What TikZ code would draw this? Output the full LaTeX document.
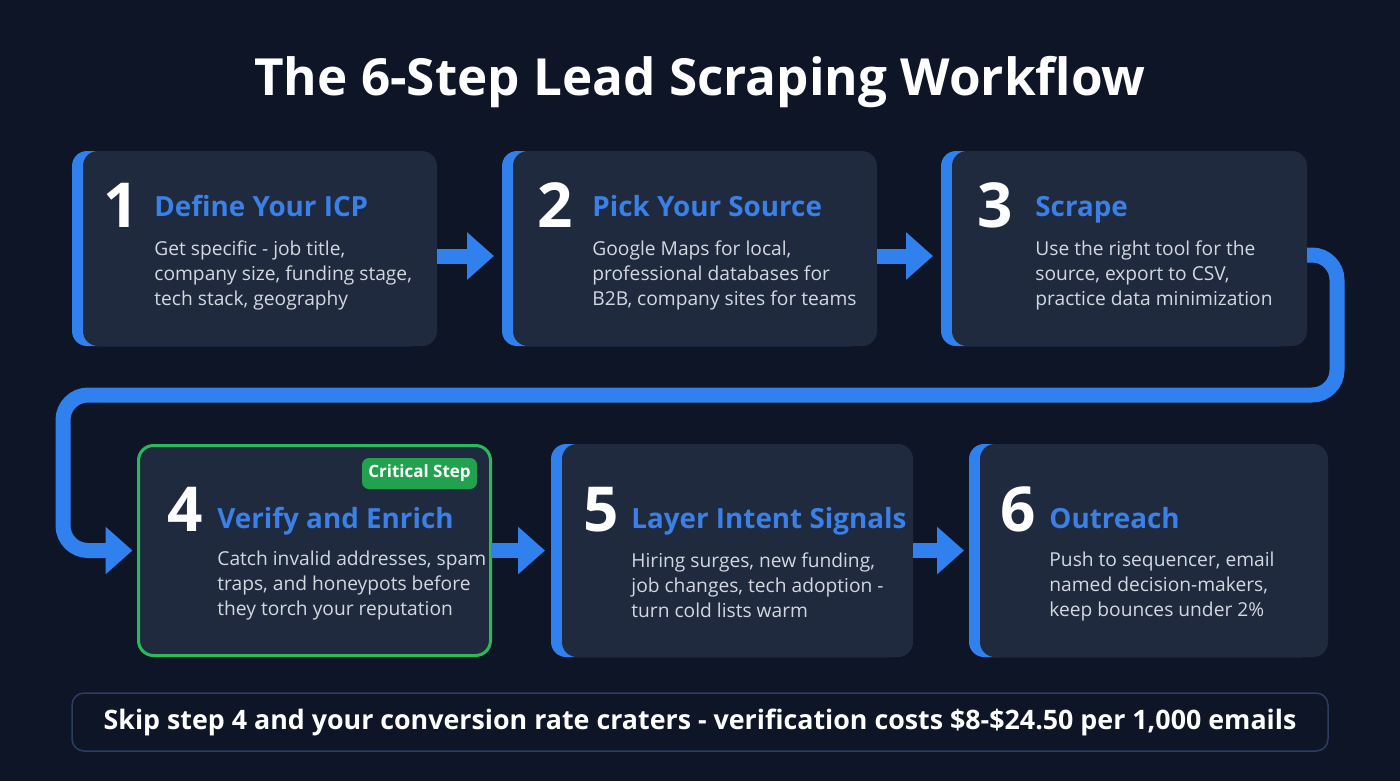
\documentclass[tikz,border=0pt]{standalone}
\usepackage{fontspec}
\setmainfont{Open Sans}
\usetikzlibrary{arrows.meta,shadows}
\definecolor{bg}{HTML}{0E1526}
\definecolor{cardfill}{HTML}{1F2A3E}
\definecolor{flowblue}{HTML}{3080EE}
\definecolor{headblue}{HTML}{3A80E6}
\definecolor{bodygray}{HTML}{D3D8E0}
\definecolor{okgreen}{HTML}{2EB85C}
\definecolor{badgegreen}{HTML}{22A24F}
\definecolor{bannerline}{HTML}{2B3D63}
\begin{document}
\begin{tikzpicture}[x=0.5pt,y=-0.5pt,
  card/.style={fill=cardfill,rounded corners=7.5pt,inner sep=0pt,outer sep=0pt,anchor=north west},
  accent/.style={card,general shadow={fill=flowblue,shadow xshift=-5.5pt,shadow yshift=0pt}},
  stepnum/.style={anchor=base west,inner sep=0pt,text=white,font=\fontsize{31}{34}\selectfont\bfseries},
  stephead/.style={anchor=base west,inner sep=0pt,text=headblue,font=\fontsize{13.9}{17}\selectfont\bfseries},
  stepbody/.style={anchor=base west,inner sep=0pt,text=bodygray,align=left,font=\fontsize{9.6}{12.5}\selectfont},
  flow/.style={draw=flowblue,line width=7.5pt,-{Triangle[length=13.5pt,width=23pt]}},
]
\fill[bg] (0,0) rectangle (1400,781);
\useasboundingbox (0,0) rectangle (1400,781);

\node[text=white,anchor=base,font=\fontsize{25.6}{30}\selectfont\bfseries] (title) at (700,96) {The 6-Step Lead Scraping Workflow};

% top row
\node[accent,minimum width=177pt,minimum height=97.5pt] (c1) at (83,151) {};
\node[accent,minimum width=182pt,minimum height=97.5pt] (c2) at (513,151) {};
\node[accent,minimum width=177.5pt,minimum height=97.5pt] (c3) at (952,151) {};
% bottom row
\node[card,draw=okgreen,line width=1.5pt,minimum width=176pt,minimum height=105pt] (c4) at (138.5,445.5) {};
\node[accent,minimum width=175.5pt,minimum height=106.5pt] (c5) at (562,444) {};
\node[accent,minimum width=174pt,minimum height=106.5pt] (c6) at (980,444) {};

\node[stepnum] (n1) at (103,227) {1};
\node[stephead] (h1) at (154,216) {Define Your ICP};
\node[stepbody] (b1) at (154,305) {Get specific - job title,\\company size, funding stage,\\tech stack, geography};

\node[stepnum] (n2) at (537,227) {2};
\node[stephead] (h2) at (592,216) {Pick Your Source};
\node[stepbody] (b2) at (592,305) {Google Maps for local,\\professional databases for\\B2B, company sites for teams};

\node[stepnum] (n3) at (977,227) {3};
\node[stephead] (h3) at (1035,216) {Scrape};
\node[stepbody] (b3) at (1035,305) {Use the right tool for the\\source, export to CSV,\\practice data minimization};

\node[fill=badgegreen,rounded corners=3.5pt,minimum width=57.5pt,minimum height=15.5pt,inner sep=0pt,text=white,font=\fontsize{8.5}{10}\selectfont\bfseries] (crit) at (419.5,473.5) {Critical Step};
\node[stepnum] (n4) at (167,531) {4};
\node[stephead] (h4) at (217,528) {Verify and Enrich};
\node[stepbody] (b4) at (217,615) {Catch invalid addresses, spam\\traps, and honeypots before\\they torch your reputation};

\node[stepnum] (n5) at (583,531) {5};
\node[stephead] (h5) at (631,528) {Layer Intent Signals};
\node[stepbody] (b5) at (631,617) {Hiring surges, new funding,\\job changes, tech adoption -\\turn cold lists warm};

\node[stepnum] (n6) at (1000,531) {6};
\node[stephead] (h6) at (1049,528) {Outreach};
\node[stepbody] (b6) at (1049,616) {Push to sequencer, email\\named decision-makers,\\keep bounces under 2\%};

% connectors
\draw[flow,shorten >=9.5pt] (c1.east |- 0,256) -- (c2.west |- 0,256);
\draw[flow,shorten >=9.5pt] (c2.east |- 0,256) -- (c3.west |- 0,256);
\draw[flow,rounded corners=12.5pt] (c3.east |- 0,255) -- (1337,255) -- (1337,395) -- (63,395) |- ([xshift=-3pt]c4.west);
\draw[flow,shorten >=8.5pt] (c4.east) -- (c5.west);
\draw[flow,shorten >=8pt] (c5.east) -- (c6.west);

\node[draw=bannerline,line width=0.75pt,fill=bg,rounded corners=6pt,minimum width=628pt,minimum height=29pt,inner sep=0pt,text=white,font=\fontsize{13.4}{15}\selectfont\bfseries] (note) at (700,722) {Skip step 4 and your conversion rate craters - verification costs \$8-\$24.50 per 1,000 emails};
\end{tikzpicture}
\end{document}
